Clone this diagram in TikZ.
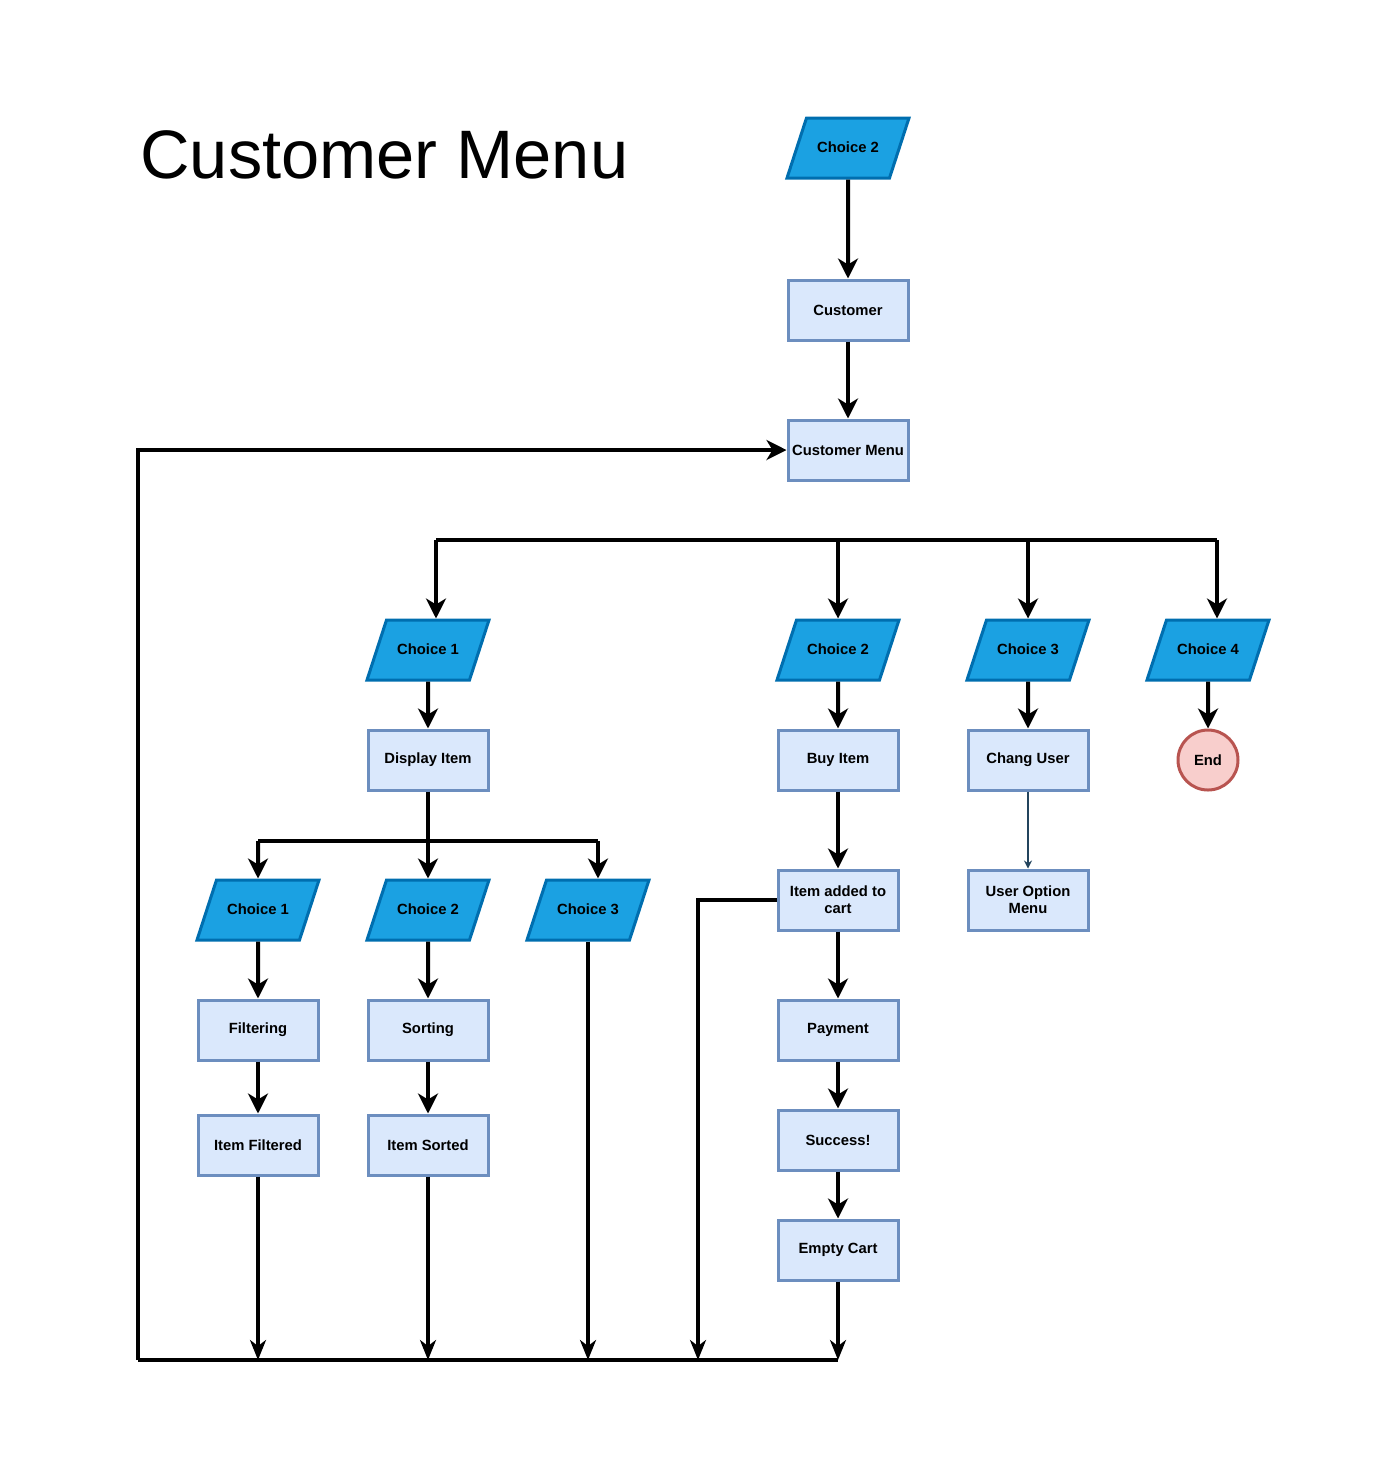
\documentclass[tikz,border=0pt]{standalone}
\usepackage{fontspec}
\setmainfont{Liberation Sans}
\usetikzlibrary{shapes.geometric,arrows.meta,positioning}
\definecolor{choicefill}{HTML}{1BA1E2}
\definecolor{choiceline}{HTML}{006EAF}
\definecolor{boxfill}{HTML}{DAE8FC}
\definecolor{boxline}{HTML}{6C8EBF}
\definecolor{endfill}{HTML}{F8CECC}
\definecolor{endline}{HTML}{B85450}
\definecolor{thinline}{HTML}{23445D}
\tikzset{
  choice/.style={trapezium, trapezium left angle=72, trapezium right angle=108,
    trapezium stretches body=true, draw=choiceline, fill=choicefill, line width=1.5pt,
    text height=6pt, text depth=1.5pt, inner ysep=11.25pt, inner xsep=1pt,
    minimum width=61pt, font=\fontsize{7.4}{8.5}\selectfont\bfseries},
  box/.style={rectangle, draw=boxline, fill=boxfill, line width=1.5pt,
    minimum width=60pt, minimum height=30pt, inner sep=1pt, align=center,
    font=\fontsize{7.4}{8.5}\selectfont\bfseries},
  flow/.style={line width=2pt, -{Stealth[length=10pt,width=10pt,inset=3pt]}},
  back/.style={line width=1.6pt, -{Stealth[length=10pt,width=8pt,inset=3pt]}},
  wire/.style={line width=2pt},
}
\begin{document}
\begin{tikzpicture}[x=0.5pt,y=-0.5pt]
\useasboundingbox (0,0) rectangle (1382,1464);
\node[anchor=west, inner sep=0pt, font=\fontsize{34.3}{38}\selectfont] (title) at (140,155) {Customer Menu};

% top of the menu
\node[choice] (start) at (848,148) {Choice 2};
\node[box] (cust) at (848,310) {Customer};
\node[box] (menu) at (848,450) {Customer Menu};
\draw[flow] (start) -- (cust);
\draw[flow] (cust) -- (menu);

% first row of choices
\node[choice] (c1) at (428,650) {Choice 1};
\node[choice] (c2) at (838,650) {Choice 2};
\node[choice] (c3) at (1028,650) {Choice 3};
\node[choice] (c4) at (1208,650) {Choice 4};
\coordinate (busL) at (436,540);
\coordinate (busR) at (1217,540);
\draw[wire] (busL) -- (busR);
\draw[flow] (busL) -- (busL |- c1.north);
\draw[flow] (busR) -- (busR |- c4.north);
\foreach \n in {c2,c3}
  \draw[flow] (\n.north |- busL) -- (\n.north);

\node[box] (show) at (428,760) {Display Item};
\node[box] (buy) at (838,760) {Buy Item};
\node[box] (chuser) at (1028,760) {Chang User};
\node[circle, draw=endline, fill=endfill, line width=1.5pt, minimum size=30pt,
  inner sep=0pt, font=\fontsize{7.4}{8.5}\selectfont\bfseries] (stop) at (1208,760) {End};
\draw[flow] (c1) -- (show);
\draw[flow] (c2) -- (buy);
\draw[flow] (c3) -- (chuser);
\draw[flow] (c4) -- (stop);

% display item branch
\node[choice] (d1) at (258,910) {Choice 1};
\node[choice] (d2) at (428,910) {Choice 2};
\node[choice] (d3) at (588,910) {Choice 3};
\coordinate (subL) at (258,841);
\coordinate (subR) at (598,841);
\draw[wire] (subL) -- (subR);
\draw[flow] (show) -- (d2);
\draw[flow] (subL) -- (d1.north);
\draw[flow] (subR) -- (subR |- d3.north);

\node[box] (filt) at (258,1030) {Filtering};
\node[box] (sort) at (428,1030) {Sorting};
\node[box] (filtd) at (258,1145) {Item Filtered};
\node[box] (sortd) at (428,1145) {Item Sorted};
\draw[flow] (d1) -- (filt);
\draw[flow] (d2) -- (sort);
\draw[flow] (filt) -- (filtd);
\draw[flow] (sort) -- (sortd);

% buy item branch
\node[box] (added) at (838,900) {Item added to\\cart};
\node[box] (pay) at (838,1030) {Payment};
\node[box] (done) at (838,1140) {Success!};
\node[box] (empty) at (838,1250) {Empty Cart};
\draw[flow] (buy) -- (added);
\draw[flow] (added) -- (pay);
\draw[flow] (pay) -- (done);
\draw[flow] (done) -- (empty);

\node[box] (opts) at (1028,900) {User Option\\Menu};
\draw[thinline, line width=0.6pt, -{Stealth[length=4pt,width=4pt]}] (chuser) -- (opts);

% way back to the customer menu
\coordinate (loopL) at (138,1360);
\coordinate (loopR) at (838,1360);
\coordinate (cartx) at (698,900);
\draw[wire] (loopL) -- (loopR);
\draw[back] (filtd) -- (filtd |- loopL);
\draw[back] (sortd) -- (sortd |- loopL);
\draw[back] (d3.south) -- (d3.south |- loopL);
\draw[back] (empty) -- (loopR);
\draw[back] (added.west) -- (cartx) -- (cartx |- loopL);
\draw[flow] (loopL) -- (loopL |- menu) -- (menu.west);
\end{tikzpicture}
\end{document}
